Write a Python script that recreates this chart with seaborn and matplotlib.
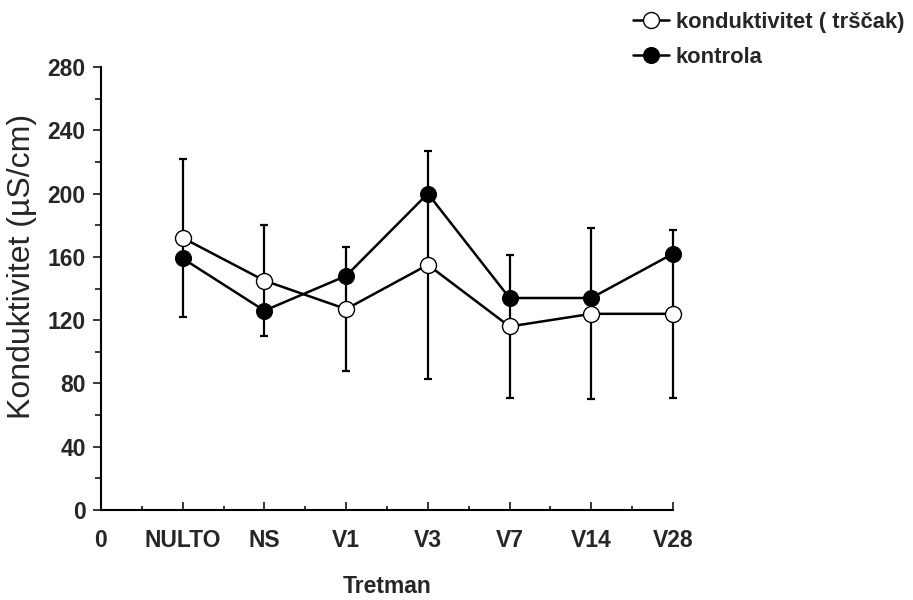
#!/usr/bin/env python3
"""
Konduktivitet po tretmanima - trščak vs kontrola.
"""

import numpy as np
import pandas as pd
import matplotlib
matplotlib.use('Agg')
import matplotlib.pyplot as plt
import seaborn as sns
from matplotlib import font_manager
from matplotlib.ticker import MultipleLocator

# Data
tick_labels = ['0', 'NULTO', 'NS', 'V1', 'V3', 'V7', 'V14', 'V28']
treatments = ['NULTO', 'NS', 'V1', 'V3', 'V7', 'V14', 'V28']
trscak = [172, 145, 127, 155, 116, 124, 124]
trscak_err = [50, 35, 39, 72, 45, 54, 53]
kontrola = [159, 126, 148, 200, 134, 134, 162]

sns.set_style('ticks')
plt.rcParams['font.family'] = ['Liberation Sans', 'DejaVu Sans']

# bold texts in the reference look like Arial Narrow
installed = {f.name for f in font_manager.fontManager.ttflist}
if 'Liberation Sans Narrow' in installed:
    bold_font = {'family': ['Liberation Sans Narrow', 'DejaVu Sans'], 'weight': 'bold', 'size': 20}
else:
    bold_font = {'family': ['Liberation Sans', 'DejaVu Sans'], 'weight': 'bold', 'size': 16.5}
legend_font = dict(bold_font, size=bold_font['size'] * 0.96)

pos = np.arange(1, len(treatments) + 1)
df = pd.DataFrame({'pos': pos, 'trscak': trscak, 'kontrola': kontrola})

fig = plt.figure(figsize=(9.13, 6.0), dpi=100)
ax = fig.add_axes([0.1106, 0.15, 0.6265, 0.7383])

# error bars (belong to the trščak series)
ax.errorbar(pos, trscak, yerr=trscak_err, fmt='none', ecolor='black',
            elinewidth=1.6, capsize=3, capthick=1.6, clip_on=False, zorder=2)

sns.lineplot(data=df, x='pos', y='kontrola', ax=ax, color='black', lw=1.8,
             marker='o', markersize=11.5, markerfacecolor='black',
             markeredgecolor='black', label='kontrola', clip_on=False, zorder=3)
sns.lineplot(data=df, x='pos', y='trscak', ax=ax, color='black', lw=1.8,
             marker='o', markersize=11.5, markerfacecolor='white',
             markeredgecolor='black', markeredgewidth=1.0,
             label='konduktivitet ( trščak)', clip_on=False, zorder=4)

ax.set_xlim(0, 7)
ax.set_ylim(0, 280)
ax.set_xticks(np.arange(0, 8))
ax.set_xticklabels(tick_labels)
ax.xaxis.set_minor_locator(MultipleLocator(0.5))
ax.yaxis.set_major_locator(MultipleLocator(40))
ax.yaxis.set_minor_locator(MultipleLocator(20))

ax.tick_params(axis='x', which='major', direction='in', length=6, width=1.3, pad=14)
ax.tick_params(axis='x', which='minor', direction='in', length=3, width=1.3)
ax.tick_params(axis='y', which='major', direction='out', length=6, width=1.3, pad=5)
ax.tick_params(axis='y', which='minor', direction='out', length=4, width=1.3)
for lbl in ax.get_xticklabels() + ax.get_yticklabels():
    lbl.set_fontfamily(bold_font['family'])
    lbl.set_fontweight('bold')
    lbl.set_fontsize(bold_font['size'])

sns.despine(ax=ax)
for sp in ['left', 'bottom']:
    ax.spines[sp].set_linewidth(1.5)
    ax.spines[sp].set_color('black')

ax.set_xlabel('Tretman', fontdict=bold_font, labelpad=16)
ax.set_ylabel('Konduktivitet (µS/cm)', fontsize=23)
ax.yaxis.set_label_coords(-0.112, 0.55)

# legend: trščak first, kontrola second
handles, labels = ax.get_legend_handles_labels()
order = [labels.index('konduktivitet ( trščak)'), labels.index('kontrola')]
ax.get_legend().remove()
leg = fig.legend([handles[i] for i in order], [labels[i] for i in order],
                 loc='upper left', bbox_to_anchor=(0.693, 0.98), frameon=False,
                 prop=legend_font, handlelength=1.65, handletextpad=0.3,
                 labelspacing=0.62, borderpad=0, borderaxespad=0)

plt.savefig('out.png', dpi=100)
plt.close()
